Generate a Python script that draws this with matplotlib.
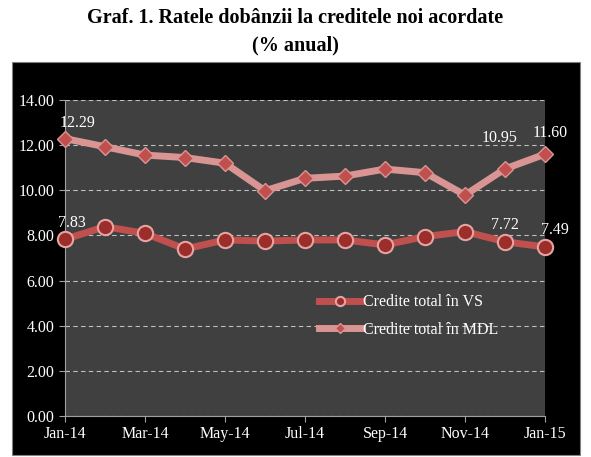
import matplotlib.pyplot as plt
from matplotlib.patches import Rectangle

months = ['Jan-14', 'Feb-14', 'Mar-14', 'Apr-14', 'May-14', 'Jun-14', 'Jul-14',
          'Aug-14', 'Sep-14', 'Oct-14', 'Nov-14', 'Dec-14', 'Jan-15']
vs = [7.83, 8.39, 8.09, 7.40, 7.80, 7.75, 7.80, 7.80, 7.58, 7.95, 8.17, 7.72, 7.49]
mdl = [12.29, 11.93, 11.56, 11.45, 11.20, 9.98, 10.53, 10.63, 10.94, 10.78, 9.79, 10.95, 11.60]

plt.rcParams['font.family'] = ['Liberation Serif', 'DejaVu Serif']

fig = plt.figure(figsize=(5.91, 4.57), dpi=100)
fig.patch.set_facecolor('white')
# black chart panel
fig.patches.append(Rectangle((12 / 591, 1 - 455 / 457), 568 / 591, 393 / 457,
                             transform=fig.transFigure, facecolor='black',
                             edgecolor='#808080', linewidth=0.8, zorder=-5))
fig.text(0.5, 1 - 18 / 457, 'Graf. 1. Ratele dobânzii la creditele noi acordate',
         ha='center', va='center', fontsize=14.5, fontweight='bold', color='black')
fig.text(0.5, 1 - 45 / 457, '(% anual)', ha='center', va='center',
         fontsize=14.5, fontweight='bold', color='black')

ax = fig.add_axes([65 / 591, 1 - 416 / 457, 480 / 591, 316 / 457])
ax.set_zorder(2)
ax.set_facecolor('#404040')
x = list(range(len(months)))

ax.plot(x, vs, color='#c0504d', linewidth=5, marker='o', markersize=11,
        markerfacecolor='#9b2d2a', markeredgecolor='#e6a3a1', markeredgewidth=1.5,
        label='Credite total în VS', zorder=3, clip_on=False)
ax.plot(x, mdl, color='#d99594', linewidth=5, marker='D', markersize=8,
        markerfacecolor='#c0504d', markeredgecolor='#d99594', markeredgewidth=1,
        label='Credite total în MDL', zorder=3, clip_on=False)

ax.set_xlim(0, len(months) - 1)
ax.set_ylim(0, 14)
ax.set_yticks([0, 2, 4, 6, 8, 10, 12, 14])
ax.set_yticklabels([f'{v:.2f}' for v in ax.get_yticks()])
ax.set_xticks(x[::2])
ax.set_xticklabels(months[::2])
ax.tick_params(colors='#a0a0a0', labelcolor='white', labelsize=11.5, length=4, direction='out')
ax.grid(axis='y', color='#bfbfbf', linestyle=(0, (4, 3)), linewidth=0.8)
for s in ['top', 'right']:
    ax.spines[s].set_visible(False)
for s in ['left', 'bottom']:
    ax.spines[s].set_color('#a0a0a0')

def lab(i, series, dx, dy):
    ax.annotate(f'{series[i]:.2f}', (x[i], series[i]), xytext=(dx, dy),
                textcoords='offset points', ha='center', va='center',
                color='white', fontsize=11.5, annotation_clip=False)

lab(0, mdl, 9, 11)
lab(0, vs, 5, 12)
lab(11, mdl, -4, 22)
lab(12, mdl, 4, 15)
lab(11, vs, 0, 12)
lab(12, vs, 7, 12)

leg = ax.legend(loc='upper left', bbox_to_anchor=(0.529, 0.385), frameon=False,
                fontsize=11.5, labelcolor='white', handlelength=2.7,
                handletextpad=0.05, borderpad=0, borderaxespad=0,
                labelspacing=0.7, markerscale=0.6)

fig.savefig('out.png', dpi=100)
